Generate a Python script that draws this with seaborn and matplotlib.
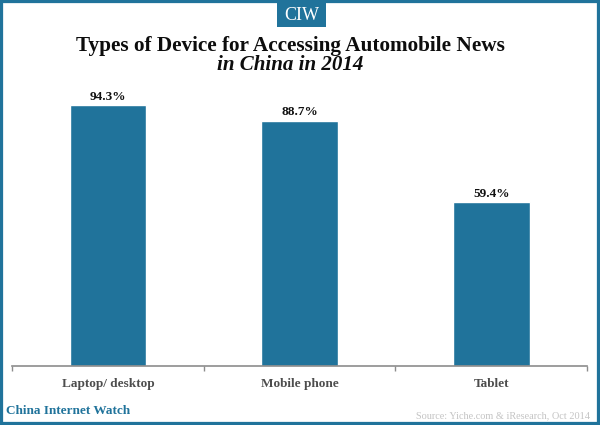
import matplotlib
matplotlib.use("Agg")
import matplotlib.pyplot as plt
from matplotlib.patches import Rectangle
import pandas as pd
import seaborn as sns

categories = ["Laptop/ desktop", "Mobile phone", "Tablet"]
values = [94.3, 88.7, 59.4]
title_line1 = "Types of Device for Accessing Automobile News"
title_line2 = "in China in 2014"

TEAL = "#20739b"
W, H = 600, 425
sns.set_theme(style="white")
plt.rcParams["font.family"] = ["Liberation Serif", "DejaVu Serif"]

fig = plt.figure(figsize=(W / 100, H / 100), dpi=100, facecolor="white")
left, right, top, base = 12, 587, 89.5, 366.3
ax = fig.add_axes([left / W, 1 - base / H, (right - left) / W, (base - top) / H])
df = pd.DataFrame({"device": categories, "share": values})
sns.barplot(data=df, x="device", y="share", color=TEAL, saturation=1, width=0.4, ax=ax)
ax.set_xlim(-0.5, 2.5)
ax.set_ylim(0, 100)
ax.set_xlabel("")
ax.set_ylabel("")
ax.set_yticks([])
ax.patch.set_alpha(0)
for s in ["top", "left", "right"]:
    ax.spines[s].set_visible(False)
ax.spines["bottom"].set_color("#8c8c8c")
ax.spines["bottom"].set_linewidth(1.2)
ax.set_xticks([-0.5, 0.5, 1.5, 2.5], minor=False)
ax.set_xticklabels([])
ax.tick_params(axis="x", which="major", direction="out", length=3.5, width=1, color="#8c8c8c", bottom=True)
for i, (c, v) in enumerate(zip(categories, values)):
    ax.annotate(c, (i, 0), xytext=(0, -12.5), textcoords="offset points", ha="center", va="center",
                fontsize=9.5, fontweight="bold", color="#4d4d4d")
    ax.annotate(f"{v:.1f}%", (i, v), xytext=(0, 6), textcoords="offset points", ha="center", va="center",
                fontsize=9.5, fontweight="bold", color="#111111")

fig.add_artist(Rectangle((0, 0), 1, 1, transform=fig.transFigure, fill=False, edgecolor=TEAL, linewidth=4.5))
fig.add_artist(Rectangle((277 / W, 1 - 27 / H), 49 / W, 27 / H, transform=fig.transFigure, facecolor=TEAL, edgecolor="none"))
fig.text(301.5 / W, 1 - 15 / H, "CIW", ha="center", va="center", color="white", fontsize=13)
fig.text(290.5 / W, 1 - 46 / H, title_line1, ha="center", va="center", fontsize=15.3, fontweight="bold", color="#0d0d0d")
fig.text(290.5 / W, 1 - 65 / H, title_line2, ha="center", va="center", fontsize=15.1, fontweight="bold", fontstyle="italic", color="#0d0d0d")
fig.text(6 / W, 1 - 410.5 / H, "China Internet Watch", ha="left", va="center", fontsize=9.5, fontweight="bold", color=TEAL)
fig.text(590 / W, 1 - 416 / H, "Source: Yiche.com & iResearch, Oct 2014", ha="right", va="center", fontsize=7.4, color="#c4c4c4")
fig.savefig("out.png", dpi=100)
